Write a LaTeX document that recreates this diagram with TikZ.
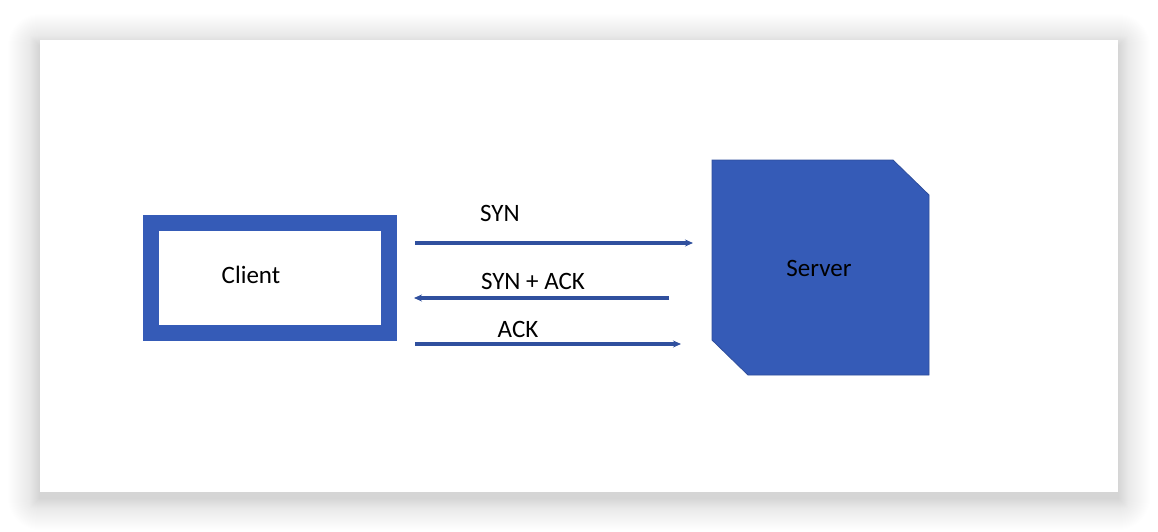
\documentclass[tikz,border=0pt]{standalone}
\usepackage{fontspec}
\setmainfont{Carlito}
\usetikzlibrary{arrows.meta}
\definecolor{boxblue}{HTML}{355BB7}
\definecolor{edgeblue}{HTML}{2F4E9C}
\definecolor{linkblue}{HTML}{30509E}
\tikzset{
  lbl/.style={font=\fontsize{25}{30}\selectfont, inner sep=0pt, anchor=center},
  link/.style={draw=linkblue, line width=3.4pt, -{Stealth[length=8pt,width=7pt]}},
}
\begin{document}
\begin{tikzpicture}[x=1pt,y=-1pt]
\useasboundingbox (0,0) rectangle (1158,532);
\fill[white] (0,0) rectangle (1158,532);
% soft shadow of the card
\foreach \i in {1,...,32}{
  \fill[black, opacity=0.0024, rounded corners=\i pt] (40-\i,40-\i+6) rectangle (1118+\i,492+\i+6);
}
\foreach \i in {1,...,10}{
  \fill[black, opacity=0.003] (40-\i,40-\i+6) rectangle (1118+\i,492+\i+6);
}
\fill[white] (40,40) rectangle (1118,492);
% client box
\draw[boxblue, line width=16pt] (151,222.5) rectangle (389,333);
\node[lbl] (client) at (251,275) {Client};
% server shape
\filldraw[fill=boxblue, draw=edgeblue, line width=0.8pt]
  (712,160) -- (893,160) -- (929,195) -- (929,375) -- (748,375) -- (712,340) -- cycle;
\node[lbl] (server) at (819,268) {Server};
% links
\coordinate (a1) at (415,243); \coordinate (b1) at (693,243);
\coordinate (a2) at (669,298); \coordinate (b2) at (414,298);
\coordinate (a3) at (415,344); \coordinate (b3) at (681,344);
\draw[link] (a1) -- (b1);
\draw[link] (a2) -- (b2);
\draw[link] (a3) -- (b3);
\node[lbl] (syn) at (500,213) {SYN};
\node[lbl] (synack) at (533,281) {SYN + ACK};
\node[lbl] (ack) at (518,329) {ACK};
\end{tikzpicture}
\end{document}
